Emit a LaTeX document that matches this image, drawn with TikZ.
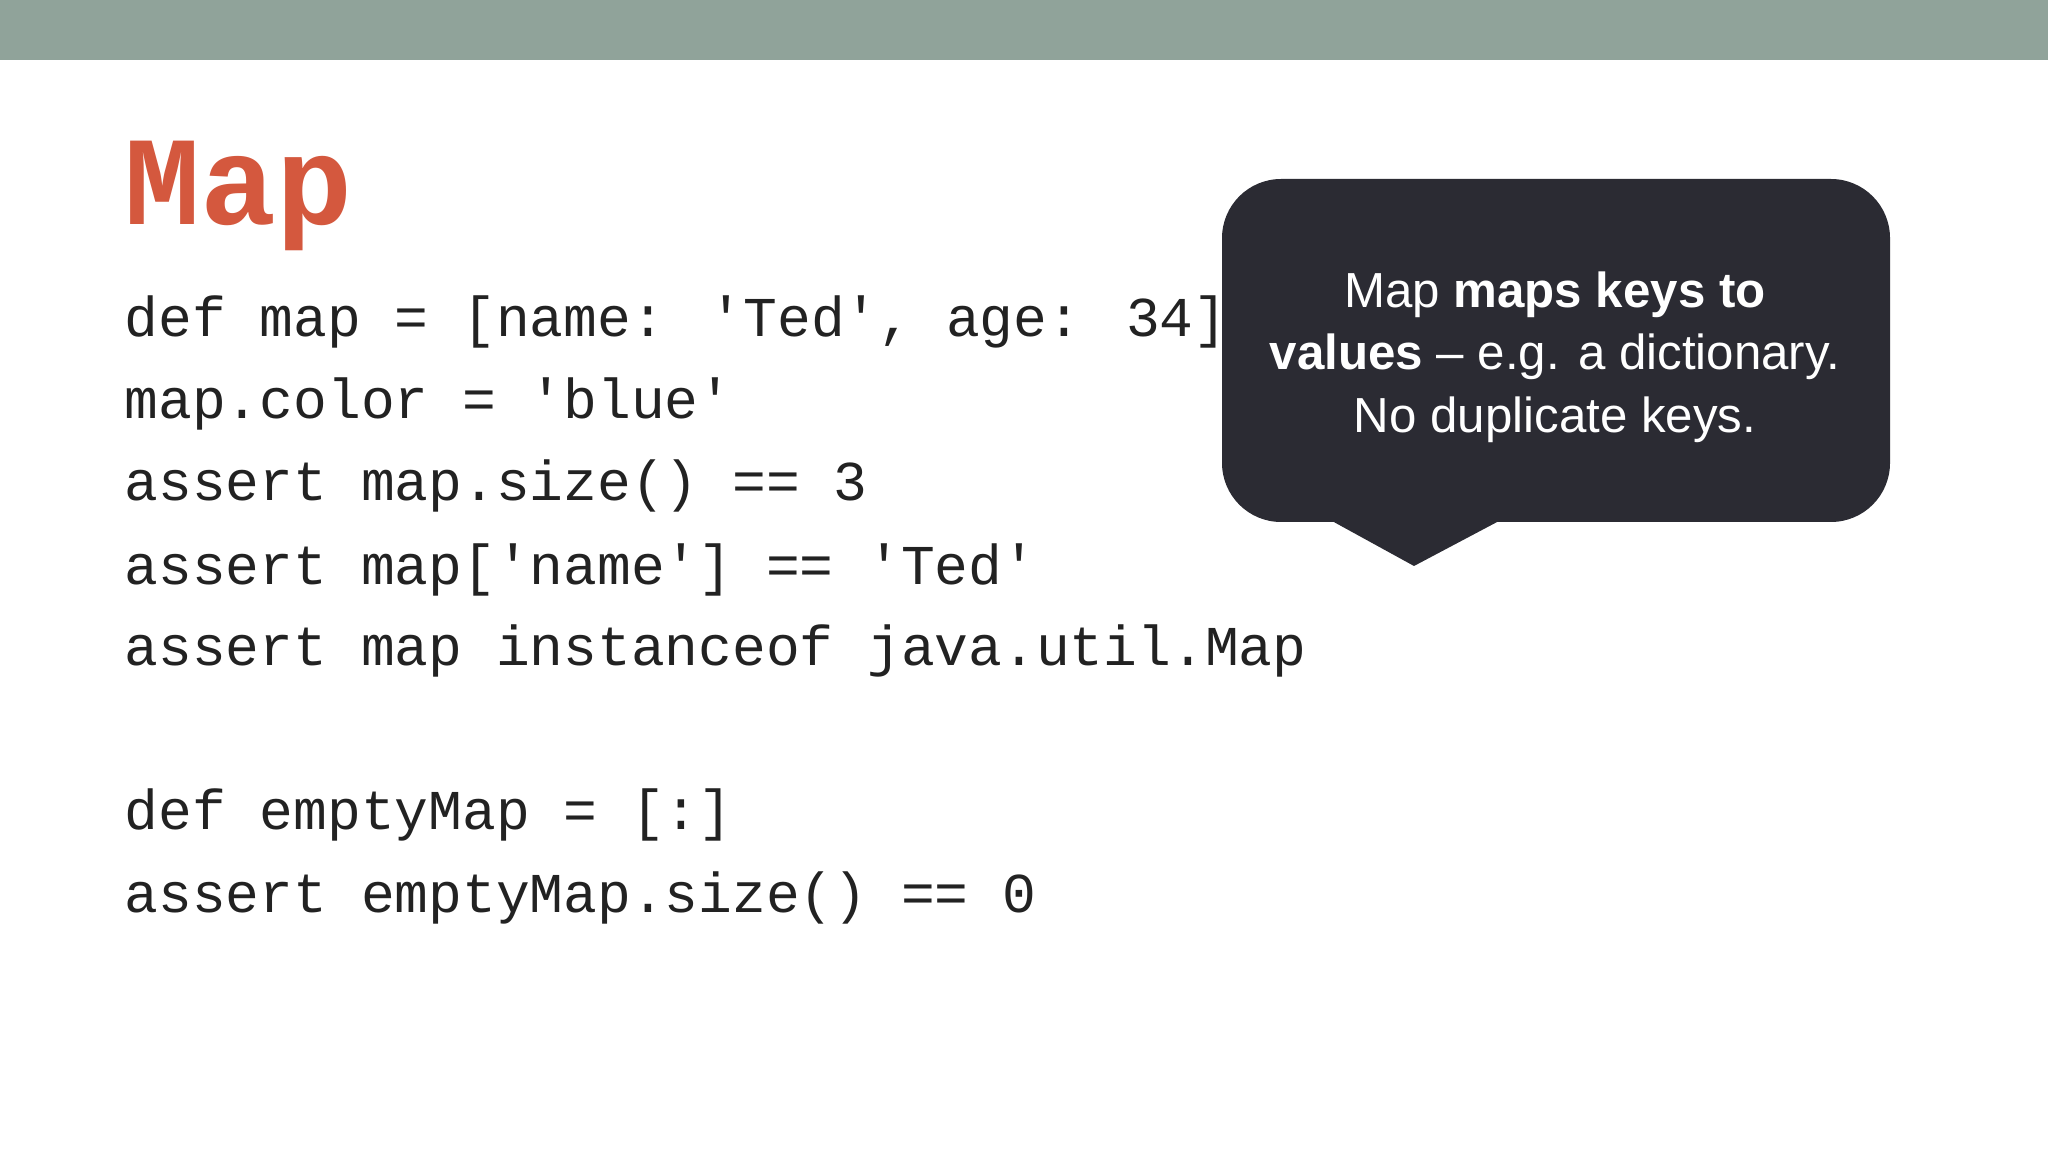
\documentclass[tikz,border=0pt]{standalone}
\usepackage{fontspec}
\setmainfont{Liberation Sans}
\newfontfamily\codefont[WordSpace=0.5]{Liberation Mono}
\newfontfamily\titlefont{Liberation Mono}
\definecolor{barc}{HTML}{90A39A}
\definecolor{titlec}{HTML}{D4583E}
\definecolor{boxc}{HTML}{2B2B33}
\definecolor{codec}{HTML}{222222}
\begin{document}
\begin{tikzpicture}[x=0.01cm,y=-0.01cm,
  code/.style={anchor=base west,inner sep=0,text=codec,font=\codefont\fontsize{16}{18}\selectfont},
  calltext/.style={anchor=base,inner sep=0,text=white,font=\fontsize{14}{16}\selectfont}]
\useasboundingbox (0,0) rectangle (2048,1152);
\fill[white] (0,0) rectangle (2048,1152);
\fill[barc] (0,0) rectangle (2048,60);
\node[anchor=base west,inner sep=0,text=titlec,font=\titlefont\bfseries\fontsize{36}{40}\selectfont] (title) at (124,225) {Map};
\node[code] (l1) at (124,337) {def map = [name: 'Ted', age: 34]};
\node[code] (l2) at (124,419) {map.color = 'blue'};
\node[code] (l3) at (124,501) {assert map.size() == 3};
\node[code] (l4) at (124,584) {assert map['name'] == 'Ted'};
\node[code] (l5) at (124,666) {assert map instanceof java.util.Map};
\node[code] (l6) at (124,829) {def emptyMap = [:]};
\node[code] (l7) at (124,912) {assert emptyMap.size() == 0};
\fill[boxc,rounded corners=16.8pt] (1222,179) rectangle (1890,522);
\fill[boxc] (1332,521) -- (1414,566) -- (1499,521) -- cycle;
\node[calltext] (c1) at (1555,308) {Map \textbf{maps keys to}};
\node[calltext] (c2) at (1555,370) {\textbf{values} -- e.g. a dictionary.};
\node[calltext] (c3) at (1555,433) {No duplicate keys.};
\end{tikzpicture}
\end{document}
